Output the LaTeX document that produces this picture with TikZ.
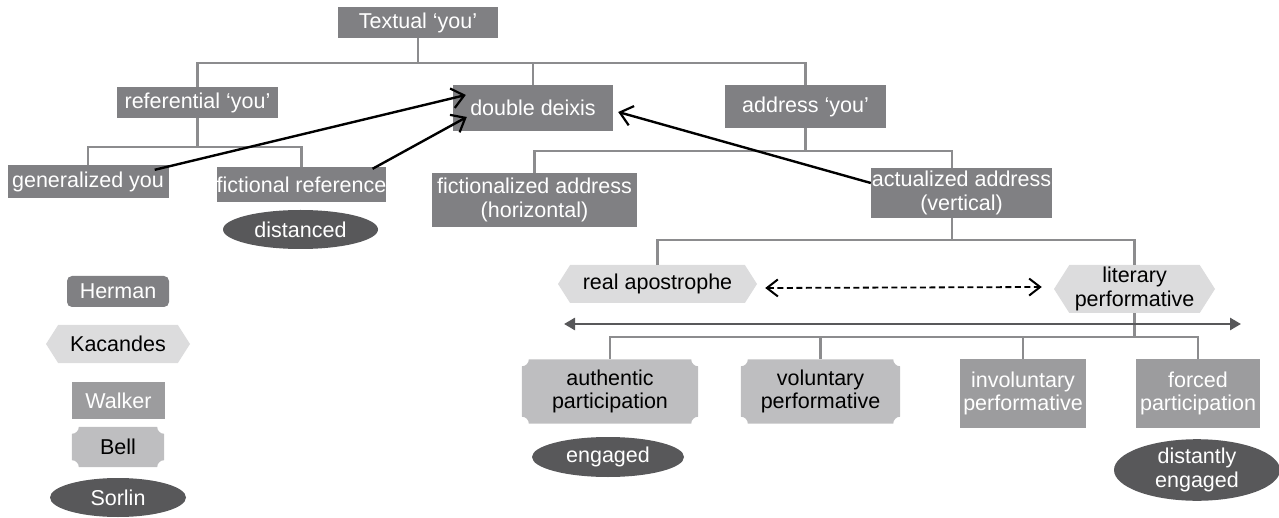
\documentclass[tikz,border=0pt]{standalone}
\usepackage{fontspec}
\setmainfont{Liberation Sans}
\usepackage{xcolor}
\usepackage{tikz}
\usetikzlibrary{positioning,arrows.meta,shapes.geometric,shapes.symbols,backgrounds,calc}

\definecolor{hermangrey}{RGB}{128,128,131}
\definecolor{walkergrey}{RGB}{156,156,158}
\definecolor{kacgrey}{RGB}{220,220,221}
\definecolor{bellgrey}{RGB}{190,190,192}
\definecolor{sorlingrey}{RGB}{88,88,90}
\definecolor{treegrey}{RGB}{140,140,142}

% ticket-like fill with hollow corners
\newcommand{\bellfill}[1]{%
  \fill[bellgrey] ([xshift=7pt]#1.north west) -- ([xshift=-7pt]#1.north east)
    arc[start angle=180,end angle=270,radius=7pt] -- ([yshift=7pt]#1.south east)
    arc[start angle=90,end angle=180,radius=7pt] -- ([xshift=7pt]#1.south west)
    arc[start angle=0,end angle=90,radius=7pt] -- ([yshift=-7pt]#1.north west)
    arc[start angle=270,end angle=360,radius=7pt] -- cycle;}

\begin{document}
\begin{tikzpicture}[x=1pt,y=1pt,
  txt/.style={inner sep=0pt,align=center,font=\fontsize{21.5}{23.5}\selectfont},
  herman/.style={txt,fill=hermangrey,text=white},
  walker/.style={txt,fill=walkergrey,text=white},
  kacandes/.style={txt,shape=signal,signal to=west and east,signal pointer angle=115,fill=kacgrey,text=black},
  bell/.style={txt,text=black},
  sorlin/.style={txt,ellipse,fill=sorlingrey,text=white},
  tree/.style={draw=treegrey,line width=2.4pt},
  link/.style={draw=black,line width=2.4pt,-{Straight Barb[length=12pt,width=20pt,line width=2.2pt]}},
  duallink/.style={draw=black,line width=1.8pt,dash pattern=on 6pt off 3.5pt,{Straight Barb[length=11pt,width=17pt,line width=2pt]}-{Straight Barb[length=11pt,width=17pt,line width=2pt]}},
  scale axis/.style={draw=sorlingrey,line width=2.6pt,{Triangle[length=11pt,width=12pt]}-{Triangle[length=11pt,width=12pt]}}]
  \useasboundingbox (0,0) rectangle (1279,-518);

  % top of the tree
  \node (textual) at (418,-22.5) [herman,minimum width=160pt,minimum height=31pt] {Textual `you'};
  \node (referential) at (197.5,-102.5) [herman,minimum width=161pt,minimum height=31pt] {referential `you'};
  \node (deixis) at (533,-108) [herman,minimum width=160pt,minimum height=46pt] {double deixis};
  \node (address) at (805.5,-106.5) [herman,minimum width=161pt,minimum height=43pt] {address `you'};
  % referential branch
  \node (generalized) at (88,-181.5) [herman,minimum width=161pt,minimum height=33pt] {generalized you};
  \node (fictref) at (301.5,-184.5) [herman,minimum width=169pt,minimum height=35pt] {fictional reference};
  \node (distanced) at (300.5,-229.5) [sorlin,minimum width=155pt,minimum height=39pt] {distanced};
  % address branch
  \node (fictaddr) at (534.5,-200) [herman,minimum width=205pt,minimum height=54pt] {fictionalized address\\(horizontal)};
  \node (actaddr) at (961.5,-193) [herman,minimum width=181pt,minimum height=50pt] {actualized address\\(vertical)};
  \node (realapos) at (657.5,-284) [kacandes,minimum width=199pt,minimum height=38pt] {real apostrophe};
  \node (litperf) at (1134.5,-289) [kacandes,minimum width=161pt,minimum height=48pt] {literary\\performative};
  % participation
  \node (authentic) at (610,-391.5) [bell,minimum width=176pt,minimum height=64pt] {authentic\\participation};
  \node (voluntary) at (820.5,-391.5) [bell,minimum width=159pt,minimum height=64pt] {voluntary\\performative};
  \node (involuntary) at (1023,-393.5) [walker,minimum width=126pt,minimum height=69pt] {involuntary\\performative};
  \node (forced) at (1198,-393.5) [walker,minimum width=124pt,minimum height=69pt] {forced\\participation};
  \node (engaged) at (608,-457) [sorlin,minimum width=152pt,minimum height=40pt] {engaged};
  \node (distantly) at (1197,-470) [sorlin,minimum width=166pt,minimum height=56pt] {distantly\\engaged};
  % key
  \node (herman) at (118,-291.5) [herman,rounded corners=5pt,minimum width=102pt,minimum height=31pt] {Herman};
  \node (kacandes) at (118,-344) [kacandes,minimum width=144pt,minimum height=38pt] {Kacandes};
  \node (walker) at (118.5,-400.5) [walker,minimum width=93pt,minimum height=37pt] {Walker};
  \node (bell) at (118,-447) [bell,minimum width=92pt,minimum height=40pt] {Bell};
  \node (sorlin) at (118,-497.5) [sorlin,minimum width=136pt,minimum height=39pt] {Sorlin};

  \begin{scope}[on background layer]
    \bellfill{authentic}
    \bellfill{voluntary}
    \bellfill{bell}
  \end{scope}

  % tree lines
  \foreach \kid in {referential,deixis,address}
    \draw[tree] (textual.south) -- +(0,-25) -| (\kid.north);
  \foreach \kid in {generalized,fictref}
    \draw[tree] (referential.south) -- +(0,-29) -| (\kid.north);
  \draw[tree] (address.south) -- +(0,-23) -| (fictaddr.north);
  \draw[tree] (address.south) -- +(0,-23) -| ([xshift=-9.5pt]actaddr.north);
  \foreach \kid in {realapos,litperf}
    \draw[tree] ([xshift=-9.5pt]actaddr.south) -- +(0,-22) -| (\kid.north);
  \foreach \kid in {authentic,voluntary,involuntary,forced}
    \draw[tree] (litperf.south) -- +(0,-24) -| (\kid.north);

  % scale of engagement
  \coordinate (axisL) at (564,-324);
  \coordinate (axisR) at (1241,-324);
  \draw[scale axis] (axisL) -- (axisR);

  % arrows into double deixis
  \draw[link] ([xshift=-14pt,yshift=-5pt]generalized.north east) -- ([xshift=13pt,yshift=13pt]deixis.west);
  \draw[link] ([xshift=-14pt,yshift=-2pt]fictref.north east) -- ([xshift=14pt,yshift=-9pt]deixis.west);
  \draw[link] ([yshift=10pt]actaddr.west) -- ([xshift=5pt,yshift=-4pt]deixis.east);
  \draw[duallink] ([xshift=8pt,yshift=-4pt]realapos.east) -- ([xshift=-12pt,yshift=2pt]litperf.west);
\end{tikzpicture}
\end{document}
